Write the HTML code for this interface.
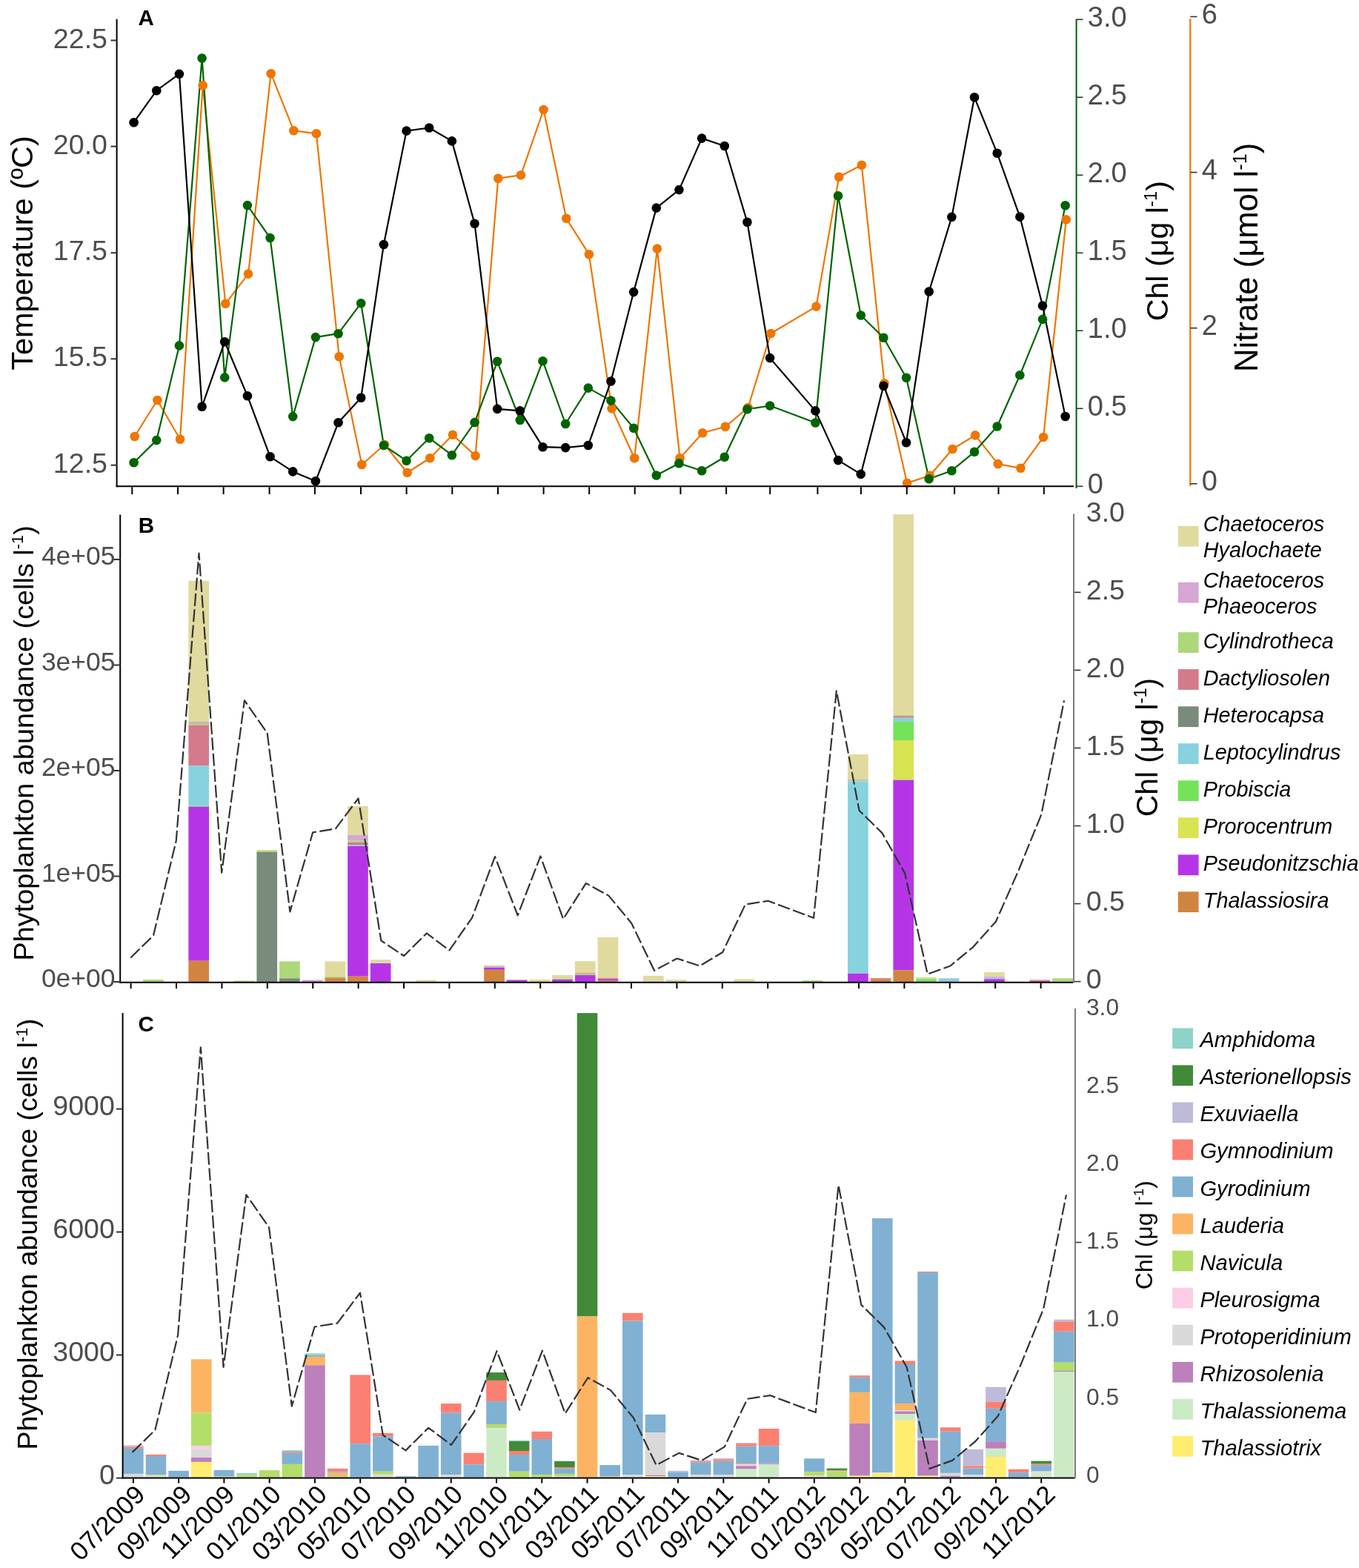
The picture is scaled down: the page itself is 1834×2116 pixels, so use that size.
<!DOCTYPE html>
<html><head><meta charset="utf-8"><title>Phytoplankton time series</title>
<style>html,body{margin:0;padding:0;background:#fff;width:1834px;height:2116px;overflow:hidden;}svg{display:block;}text{font-family:'Liberation Sans', Arial, Helvetica, sans-serif;}</style></head><body>
<svg width="1834" height="2116" viewBox="0 0 1834 2116">
<rect x="0" y="0" width="1834" height="2116" fill="#ffffff"/>
<polyline points="181.7,589 212.36,540 243.02,592.8 273.68,115.3 304.34,409.8 335,369.6 365.66,99.2 396.32,176.2 426.98,180.3 457.64,481.2 488.3,627 518.96,600 549.62,637.7 580.28,618.2 610.94,586.8 641.6,615.1 672.26,240.7 702.92,236.3 733.58,148 764.24,294.8 794.9,343.2 825.56,551.3 856.22,618.2 886.88,335.6 917.54,618.2 948.2,584.3 978.86,575.8 1009.52,550 1040.18,450 1101.5,413.6 1132.16,238.8 1162.82,222.8 1193.48,517.3 1224.14,651.9 1254.8,641.8 1285.46,606 1316.12,587.4 1346.78,626.1 1377.44,631.8 1408.1,590 1438.76,296.3" fill="none" stroke="#ee7600" stroke-width="2.2" stroke-linejoin="round"/>
<polyline points="180.6,624.2 211.26,594.1 241.92,466.4 272.58,78.5 303.24,509.4 333.9,277.1 364.56,321.1 395.22,562.1 425.88,455.1 456.54,450.2 487.2,409.2 517.86,601 548.52,621.7 579.18,591.2 609.84,614.2 640.5,570.1 671.16,487.8 701.82,567 732.48,487.2 763.14,572 793.8,523.6 824.46,540.6 855.12,577.7 885.78,641.5 916.44,625.2 947.1,635.2 977.76,616.7 1008.42,552.2 1039.08,547.5 1100.4,570.5 1131.06,264.3 1161.72,425.5 1192.38,455.7 1223.04,509.8 1253.7,646.2 1284.36,635.2 1315.02,609.8 1345.68,575.5 1376.34,506.3 1407,430.9 1437.66,277.2" fill="none" stroke="#006400" stroke-width="2.2" stroke-linejoin="round"/>
<polyline points="180.6,165.2 211.26,122.2 241.92,99.9 272.58,548.7 303.24,461.3 333.9,534.2 364.56,616.3 395.22,636.4 425.88,649.3 456.54,570.3 487.2,536.8 517.86,330 548.52,176.6 579.18,172.5 609.84,190.4 640.5,301.7 671.16,551.9 701.82,554.4 732.48,603.2 763.14,604.1 793.8,601 824.46,514.5 855.12,394.1 885.78,280.6 916.44,256.1 947.1,186.6 977.76,197 1008.42,299.8 1039.08,483.1 1100.4,554.4 1131.06,621.1 1161.72,639.9 1192.38,520.8 1223.04,597.2 1253.7,393.5 1284.36,292.9 1315.02,131.3 1345.68,206.7 1376.34,292.6 1407,412.6 1437.66,562" fill="none" stroke="#000000" stroke-width="2.2" stroke-linejoin="round"/>
<circle cx="181.7" cy="589" r="6.3" fill="#ee7600"/>
<circle cx="212.36" cy="540" r="6.3" fill="#ee7600"/>
<circle cx="243.02" cy="592.8" r="6.3" fill="#ee7600"/>
<circle cx="273.68" cy="115.3" r="6.3" fill="#ee7600"/>
<circle cx="304.34" cy="409.8" r="6.3" fill="#ee7600"/>
<circle cx="335" cy="369.6" r="6.3" fill="#ee7600"/>
<circle cx="365.66" cy="99.2" r="6.3" fill="#ee7600"/>
<circle cx="396.32" cy="176.2" r="6.3" fill="#ee7600"/>
<circle cx="426.98" cy="180.3" r="6.3" fill="#ee7600"/>
<circle cx="457.64" cy="481.2" r="6.3" fill="#ee7600"/>
<circle cx="488.3" cy="627" r="6.3" fill="#ee7600"/>
<circle cx="518.96" cy="600" r="6.3" fill="#ee7600"/>
<circle cx="549.62" cy="637.7" r="6.3" fill="#ee7600"/>
<circle cx="580.28" cy="618.2" r="6.3" fill="#ee7600"/>
<circle cx="610.94" cy="586.8" r="6.3" fill="#ee7600"/>
<circle cx="641.6" cy="615.1" r="6.3" fill="#ee7600"/>
<circle cx="672.26" cy="240.7" r="6.3" fill="#ee7600"/>
<circle cx="702.92" cy="236.3" r="6.3" fill="#ee7600"/>
<circle cx="733.58" cy="148" r="6.3" fill="#ee7600"/>
<circle cx="764.24" cy="294.8" r="6.3" fill="#ee7600"/>
<circle cx="794.9" cy="343.2" r="6.3" fill="#ee7600"/>
<circle cx="825.56" cy="551.3" r="6.3" fill="#ee7600"/>
<circle cx="856.22" cy="618.2" r="6.3" fill="#ee7600"/>
<circle cx="886.88" cy="335.6" r="6.3" fill="#ee7600"/>
<circle cx="917.54" cy="618.2" r="6.3" fill="#ee7600"/>
<circle cx="948.2" cy="584.3" r="6.3" fill="#ee7600"/>
<circle cx="978.86" cy="575.8" r="6.3" fill="#ee7600"/>
<circle cx="1009.52" cy="550" r="6.3" fill="#ee7600"/>
<circle cx="1040.18" cy="450" r="6.3" fill="#ee7600"/>
<circle cx="1101.5" cy="413.6" r="6.3" fill="#ee7600"/>
<circle cx="1132.16" cy="238.8" r="6.3" fill="#ee7600"/>
<circle cx="1162.82" cy="222.8" r="6.3" fill="#ee7600"/>
<circle cx="1193.48" cy="517.3" r="6.3" fill="#ee7600"/>
<circle cx="1224.14" cy="651.9" r="6.3" fill="#ee7600"/>
<circle cx="1254.8" cy="641.8" r="6.3" fill="#ee7600"/>
<circle cx="1285.46" cy="606" r="6.3" fill="#ee7600"/>
<circle cx="1316.12" cy="587.4" r="6.3" fill="#ee7600"/>
<circle cx="1346.78" cy="626.1" r="6.3" fill="#ee7600"/>
<circle cx="1377.44" cy="631.8" r="6.3" fill="#ee7600"/>
<circle cx="1408.1" cy="590" r="6.3" fill="#ee7600"/>
<circle cx="1438.76" cy="296.3" r="6.3" fill="#ee7600"/>
<circle cx="180.6" cy="624.2" r="6.3" fill="#006400"/>
<circle cx="211.26" cy="594.1" r="6.3" fill="#006400"/>
<circle cx="241.92" cy="466.4" r="6.3" fill="#006400"/>
<circle cx="272.58" cy="78.5" r="6.3" fill="#006400"/>
<circle cx="303.24" cy="509.4" r="6.3" fill="#006400"/>
<circle cx="333.9" cy="277.1" r="6.3" fill="#006400"/>
<circle cx="364.56" cy="321.1" r="6.3" fill="#006400"/>
<circle cx="395.22" cy="562.1" r="6.3" fill="#006400"/>
<circle cx="425.88" cy="455.1" r="6.3" fill="#006400"/>
<circle cx="456.54" cy="450.2" r="6.3" fill="#006400"/>
<circle cx="487.2" cy="409.2" r="6.3" fill="#006400"/>
<circle cx="517.86" cy="601" r="6.3" fill="#006400"/>
<circle cx="548.52" cy="621.7" r="6.3" fill="#006400"/>
<circle cx="579.18" cy="591.2" r="6.3" fill="#006400"/>
<circle cx="609.84" cy="614.2" r="6.3" fill="#006400"/>
<circle cx="640.5" cy="570.1" r="6.3" fill="#006400"/>
<circle cx="671.16" cy="487.8" r="6.3" fill="#006400"/>
<circle cx="701.82" cy="567" r="6.3" fill="#006400"/>
<circle cx="732.48" cy="487.2" r="6.3" fill="#006400"/>
<circle cx="763.14" cy="572" r="6.3" fill="#006400"/>
<circle cx="793.8" cy="523.6" r="6.3" fill="#006400"/>
<circle cx="824.46" cy="540.6" r="6.3" fill="#006400"/>
<circle cx="855.12" cy="577.7" r="6.3" fill="#006400"/>
<circle cx="885.78" cy="641.5" r="6.3" fill="#006400"/>
<circle cx="916.44" cy="625.2" r="6.3" fill="#006400"/>
<circle cx="947.1" cy="635.2" r="6.3" fill="#006400"/>
<circle cx="977.76" cy="616.7" r="6.3" fill="#006400"/>
<circle cx="1008.42" cy="552.2" r="6.3" fill="#006400"/>
<circle cx="1039.08" cy="547.5" r="6.3" fill="#006400"/>
<circle cx="1100.4" cy="570.5" r="6.3" fill="#006400"/>
<circle cx="1131.06" cy="264.3" r="6.3" fill="#006400"/>
<circle cx="1161.72" cy="425.5" r="6.3" fill="#006400"/>
<circle cx="1192.38" cy="455.7" r="6.3" fill="#006400"/>
<circle cx="1223.04" cy="509.8" r="6.3" fill="#006400"/>
<circle cx="1253.7" cy="646.2" r="6.3" fill="#006400"/>
<circle cx="1284.36" cy="635.2" r="6.3" fill="#006400"/>
<circle cx="1315.02" cy="609.8" r="6.3" fill="#006400"/>
<circle cx="1345.68" cy="575.5" r="6.3" fill="#006400"/>
<circle cx="1376.34" cy="506.3" r="6.3" fill="#006400"/>
<circle cx="1407" cy="430.9" r="6.3" fill="#006400"/>
<circle cx="1437.66" cy="277.2" r="6.3" fill="#006400"/>
<circle cx="180.6" cy="165.2" r="6.3" fill="#000"/>
<circle cx="211.26" cy="122.2" r="6.3" fill="#000"/>
<circle cx="241.92" cy="99.9" r="6.3" fill="#000"/>
<circle cx="272.58" cy="548.7" r="6.3" fill="#000"/>
<circle cx="303.24" cy="461.3" r="6.3" fill="#000"/>
<circle cx="333.9" cy="534.2" r="6.3" fill="#000"/>
<circle cx="364.56" cy="616.3" r="6.3" fill="#000"/>
<circle cx="395.22" cy="636.4" r="6.3" fill="#000"/>
<circle cx="425.88" cy="649.3" r="6.3" fill="#000"/>
<circle cx="456.54" cy="570.3" r="6.3" fill="#000"/>
<circle cx="487.2" cy="536.8" r="6.3" fill="#000"/>
<circle cx="517.86" cy="330" r="6.3" fill="#000"/>
<circle cx="548.52" cy="176.6" r="6.3" fill="#000"/>
<circle cx="579.18" cy="172.5" r="6.3" fill="#000"/>
<circle cx="609.84" cy="190.4" r="6.3" fill="#000"/>
<circle cx="640.5" cy="301.7" r="6.3" fill="#000"/>
<circle cx="671.16" cy="551.9" r="6.3" fill="#000"/>
<circle cx="701.82" cy="554.4" r="6.3" fill="#000"/>
<circle cx="732.48" cy="603.2" r="6.3" fill="#000"/>
<circle cx="763.14" cy="604.1" r="6.3" fill="#000"/>
<circle cx="793.8" cy="601" r="6.3" fill="#000"/>
<circle cx="824.46" cy="514.5" r="6.3" fill="#000"/>
<circle cx="855.12" cy="394.1" r="6.3" fill="#000"/>
<circle cx="885.78" cy="280.6" r="6.3" fill="#000"/>
<circle cx="916.44" cy="256.1" r="6.3" fill="#000"/>
<circle cx="947.1" cy="186.6" r="6.3" fill="#000"/>
<circle cx="977.76" cy="197" r="6.3" fill="#000"/>
<circle cx="1008.42" cy="299.8" r="6.3" fill="#000"/>
<circle cx="1039.08" cy="483.1" r="6.3" fill="#000"/>
<circle cx="1100.4" cy="554.4" r="6.3" fill="#000"/>
<circle cx="1131.06" cy="621.1" r="6.3" fill="#000"/>
<circle cx="1161.72" cy="639.9" r="6.3" fill="#000"/>
<circle cx="1192.38" cy="520.8" r="6.3" fill="#000"/>
<circle cx="1223.04" cy="597.2" r="6.3" fill="#000"/>
<circle cx="1253.7" cy="393.5" r="6.3" fill="#000"/>
<circle cx="1284.36" cy="292.9" r="6.3" fill="#000"/>
<circle cx="1315.02" cy="131.3" r="6.3" fill="#000"/>
<circle cx="1345.68" cy="206.7" r="6.3" fill="#000"/>
<circle cx="1376.34" cy="292.6" r="6.3" fill="#000"/>
<circle cx="1407" cy="412.6" r="6.3" fill="#000"/>
<circle cx="1437.66" cy="562" r="6.3" fill="#000"/>
<line x1="157.6" y1="25.7" x2="157.6" y2="657.3" stroke="#000" stroke-width="2"/>
<line x1="156.6" y1="656.3" x2="1449" y2="656.3" stroke="#000" stroke-width="2"/>
<line x1="149.5" y1="54.5" x2="157.6" y2="54.5" stroke="#333" stroke-width="2"/>
<text x="145" y="64.5" font-size="37.6" text-anchor="end" fill="#4d4d4d">22.5</text>
<line x1="149.5" y1="197.6" x2="157.6" y2="197.6" stroke="#333" stroke-width="2"/>
<text x="145" y="207.6" font-size="37.6" text-anchor="end" fill="#4d4d4d">20.0</text>
<line x1="149.5" y1="341.2" x2="157.6" y2="341.2" stroke="#333" stroke-width="2"/>
<text x="145" y="351.2" font-size="37.6" text-anchor="end" fill="#4d4d4d">17.5</text>
<line x1="149.5" y1="484.3" x2="157.6" y2="484.3" stroke="#333" stroke-width="2"/>
<text x="145" y="494.3" font-size="37.6" text-anchor="end" fill="#4d4d4d">15.5</text>
<line x1="149.5" y1="627.7" x2="157.6" y2="627.7" stroke="#333" stroke-width="2"/>
<text x="145" y="637.7" font-size="37.6" text-anchor="end" fill="#4d4d4d">12.5</text>
<line x1="178.3" y1="657.3" x2="178.3" y2="667" stroke="#000" stroke-width="2"/>
<line x1="240" y1="657.3" x2="240" y2="667" stroke="#000" stroke-width="2"/>
<line x1="301.6" y1="657.3" x2="301.6" y2="667" stroke="#000" stroke-width="2"/>
<line x1="363.6" y1="657.3" x2="363.6" y2="667" stroke="#000" stroke-width="2"/>
<line x1="424.9" y1="657.3" x2="424.9" y2="667" stroke="#000" stroke-width="2"/>
<line x1="487" y1="657.3" x2="487" y2="667" stroke="#000" stroke-width="2"/>
<line x1="548.6" y1="657.3" x2="548.6" y2="667" stroke="#000" stroke-width="2"/>
<line x1="610.3" y1="657.3" x2="610.3" y2="667" stroke="#000" stroke-width="2"/>
<line x1="672" y1="657.3" x2="672" y2="667" stroke="#000" stroke-width="2"/>
<line x1="733.6" y1="657.3" x2="733.6" y2="667" stroke="#000" stroke-width="2"/>
<line x1="795.2" y1="657.3" x2="795.2" y2="667" stroke="#000" stroke-width="2"/>
<line x1="856.7" y1="657.3" x2="856.7" y2="667" stroke="#000" stroke-width="2"/>
<line x1="918.4" y1="657.3" x2="918.4" y2="667" stroke="#000" stroke-width="2"/>
<line x1="980.1" y1="657.3" x2="980.1" y2="667" stroke="#000" stroke-width="2"/>
<line x1="1039.2" y1="657.3" x2="1039.2" y2="667" stroke="#000" stroke-width="2"/>
<line x1="1103.4" y1="657.3" x2="1103.4" y2="667" stroke="#000" stroke-width="2"/>
<line x1="1161.9" y1="657.3" x2="1161.9" y2="667" stroke="#000" stroke-width="2"/>
<line x1="1223.8" y1="657.3" x2="1223.8" y2="667" stroke="#000" stroke-width="2"/>
<line x1="1288.1" y1="657.3" x2="1288.1" y2="667" stroke="#000" stroke-width="2"/>
<line x1="1347.5" y1="657.3" x2="1347.5" y2="667" stroke="#000" stroke-width="2"/>
<line x1="1408.8" y1="657.3" x2="1408.8" y2="667" stroke="#000" stroke-width="2"/>
<line x1="1452.6" y1="25.8" x2="1452.6" y2="659" stroke="#006400" stroke-width="2"/>
<line x1="1452.6" y1="656.3" x2="1461.5" y2="656.3" stroke="#333" stroke-width="1.6"/>
<text x="1467.8" y="666.1" font-size="38" text-anchor="start" fill="#4d4d4d">0</text>
<line x1="1452.6" y1="551.3" x2="1461.5" y2="551.3" stroke="#333" stroke-width="1.6"/>
<text x="1467.8" y="561.1" font-size="38" text-anchor="start" fill="#4d4d4d">0.5</text>
<line x1="1452.6" y1="446.3" x2="1461.5" y2="446.3" stroke="#333" stroke-width="1.6"/>
<text x="1467.8" y="456.1" font-size="38" text-anchor="start" fill="#4d4d4d">1.0</text>
<line x1="1452.6" y1="341.3" x2="1461.5" y2="341.3" stroke="#333" stroke-width="1.6"/>
<text x="1467.8" y="351.1" font-size="38" text-anchor="start" fill="#4d4d4d">1.5</text>
<line x1="1452.6" y1="236.3" x2="1461.5" y2="236.3" stroke="#333" stroke-width="1.6"/>
<text x="1467.8" y="246.1" font-size="38" text-anchor="start" fill="#4d4d4d">2.0</text>
<line x1="1452.6" y1="131.3" x2="1461.5" y2="131.3" stroke="#333" stroke-width="1.6"/>
<text x="1467.8" y="141.1" font-size="38" text-anchor="start" fill="#4d4d4d">2.5</text>
<line x1="1452.6" y1="26.3" x2="1461.5" y2="26.3" stroke="#333" stroke-width="1.6"/>
<text x="1467.8" y="36.1" font-size="38" text-anchor="start" fill="#4d4d4d">3.0</text>
<line x1="1606.3" y1="25.2" x2="1606.3" y2="655.7" stroke="#ee7600" stroke-width="2.2"/>
<line x1="1606.3" y1="652.8" x2="1615.5" y2="652.8" stroke="#333" stroke-width="1.6"/>
<text x="1621.8" y="662.4" font-size="38" text-anchor="start" fill="#4d4d4d">0</text>
<line x1="1606.3" y1="442.7" x2="1615.5" y2="442.7" stroke="#333" stroke-width="1.6"/>
<text x="1621.8" y="452.3" font-size="38" text-anchor="start" fill="#4d4d4d">2</text>
<line x1="1606.3" y1="232.6" x2="1615.5" y2="232.6" stroke="#333" stroke-width="1.6"/>
<text x="1621.8" y="242.2" font-size="38" text-anchor="start" fill="#4d4d4d">4</text>
<line x1="1606.3" y1="22.5" x2="1615.5" y2="22.5" stroke="#333" stroke-width="1.6"/>
<text x="1621.8" y="32.1" font-size="38" text-anchor="start" fill="#4d4d4d">6</text>
<text x="186.6" y="33.7" font-size="29.5" text-anchor="start" fill="#000" font-weight="bold">A</text>
<text x="0" y="0" font-size="41.4" text-anchor="middle" fill="#000" transform="translate(43.5 341.5) rotate(-90)">Temperature (ºC)</text>
<text x="0" y="0" font-size="41.2" text-anchor="middle" fill="#000" transform="translate(1575.6 338.7) rotate(-90)">Chl (μg l<tspan font-size="58%" dy="-14.83">-1</tspan><tspan dy="14.83">)</tspan></text>
<text x="0" y="0" font-size="43.6" text-anchor="middle" fill="#000" transform="translate(1697.3 347.3) rotate(-90)">Nitrate (μmol l<tspan font-size="58%" dy="-15.7">-1</tspan><tspan dy="15.7">)</tspan></text>
<rect x="193" y="1321.9" width="27.7" height="3.5" fill="#add879"/>
<rect x="254.36" y="783.7" width="27.7" height="190.2" fill="#e0da9e"/>
<rect x="254.36" y="973.9" width="27.7" height="2.1" fill="#d4a7d4"/>
<rect x="254.36" y="976" width="27.7" height="2.6" fill="#add879"/>
<rect x="254.36" y="978.6" width="27.7" height="54.7" fill="#d47a8a"/>
<rect x="254.36" y="1033.3" width="27.7" height="54.1" fill="#87d2de"/>
<rect x="254.36" y="1087.4" width="27.7" height="1.2" fill="#74e35a"/>
<rect x="254.36" y="1088.6" width="27.7" height="208.1" fill="#b535e6"/>
<rect x="254.36" y="1296.7" width="27.7" height="28.7" fill="#d1843f"/>
<rect x="315.71" y="1323.4" width="27.7" height="2" fill="#add879"/>
<rect x="346.39" y="1147.4" width="27.7" height="2.5" fill="#add879"/>
<rect x="346.39" y="1149.9" width="27.7" height="175.5" fill="#798b7a"/>
<rect x="377.07" y="1297.4" width="27.7" height="22.9" fill="#add879"/>
<rect x="377.07" y="1320.3" width="27.7" height="5.1" fill="#798b7a"/>
<rect x="407.75" y="1322.4" width="27.7" height="2.1" fill="#d4a7d4"/>
<rect x="407.75" y="1324.5" width="27.7" height="0.9" fill="#b535e6"/>
<rect x="438.43" y="1297.4" width="27.7" height="20.4" fill="#e0da9e"/>
<rect x="438.43" y="1317.8" width="27.7" height="1.6" fill="#add879"/>
<rect x="438.43" y="1319.4" width="27.7" height="6" fill="#d1843f"/>
<rect x="469.11" y="1087.9" width="27.7" height="39.1" fill="#e0da9e"/>
<rect x="469.11" y="1127" width="27.7" height="7.6" fill="#d4a7d4"/>
<rect x="469.11" y="1134.6" width="27.7" height="2.4" fill="#add879"/>
<rect x="469.11" y="1137" width="27.7" height="3.5" fill="#d47a8a"/>
<rect x="469.11" y="1140.5" width="27.7" height="1.3" fill="#87d2de"/>
<rect x="469.11" y="1141.8" width="27.7" height="175.9" fill="#b535e6"/>
<rect x="469.11" y="1317.7" width="27.7" height="7.7" fill="#d1843f"/>
<rect x="499.79" y="1295" width="27.7" height="4.5" fill="#e0da9e"/>
<rect x="499.79" y="1299.5" width="27.7" height="0.5" fill="#add879"/>
<rect x="499.79" y="1300" width="27.7" height="25.4" fill="#b535e6"/>
<rect x="561.15" y="1322.5" width="27.7" height="2.9" fill="#e0da9e"/>
<rect x="653.18" y="1302.9" width="27.7" height="1.4" fill="#add879"/>
<rect x="653.18" y="1304.3" width="27.7" height="1.4" fill="#d4a7d4"/>
<rect x="653.18" y="1305.7" width="27.7" height="3.1" fill="#b535e6"/>
<rect x="653.18" y="1308.8" width="27.7" height="16.6" fill="#d1843f"/>
<rect x="683.86" y="1321.8" width="27.7" height="0.9" fill="#add879"/>
<rect x="683.86" y="1322.7" width="27.7" height="2.7" fill="#b535e6"/>
<rect x="714.54" y="1321.8" width="27.7" height="3.6" fill="#e0da9e"/>
<rect x="745.22" y="1315.9" width="27.7" height="4.5" fill="#e0da9e"/>
<rect x="745.22" y="1320.4" width="27.7" height="1.4" fill="#add879"/>
<rect x="745.22" y="1321.8" width="27.7" height="3.6" fill="#b535e6"/>
<rect x="775.9" y="1297.1" width="27.7" height="16.1" fill="#e0da9e"/>
<rect x="775.9" y="1313.2" width="27.7" height="0.9" fill="#d47a8a"/>
<rect x="775.9" y="1314.1" width="27.7" height="1.8" fill="#add879"/>
<rect x="775.9" y="1315.9" width="27.7" height="9.5" fill="#b535e6"/>
<rect x="806.58" y="1265" width="27.7" height="55" fill="#e0da9e"/>
<rect x="806.58" y="1320" width="27.7" height="1.3" fill="#d47a8a"/>
<rect x="806.58" y="1321.3" width="27.7" height="2.3" fill="#b535e6"/>
<rect x="806.58" y="1323.6" width="27.7" height="1.8" fill="#d1843f"/>
<rect x="867.94" y="1316.8" width="27.7" height="8.6" fill="#e0da9e"/>
<rect x="898.62" y="1322.1" width="27.7" height="3.3" fill="#e0da9e"/>
<rect x="990.65" y="1321.3" width="27.7" height="4.1" fill="#e0da9e"/>
<rect x="1082.69" y="1323" width="27.7" height="2.4" fill="#add879"/>
<rect x="1144.05" y="1018.1" width="27.7" height="33.9" fill="#e0da9e"/>
<rect x="1144.05" y="1052" width="27.7" height="1.2" fill="#d4a7d4"/>
<rect x="1144.05" y="1053.2" width="27.7" height="1.5" fill="#add879"/>
<rect x="1144.05" y="1054.7" width="27.7" height="259.05" fill="#87d2de"/>
<rect x="1144.05" y="1313.75" width="27.7" height="11.65" fill="#b535e6"/>
<rect x="1174.73" y="1320" width="27.7" height="1.25" fill="#d47a8a"/>
<rect x="1174.73" y="1321.25" width="27.7" height="4.15" fill="#d1843f"/>
<rect x="1205.41" y="694.1" width="27.7" height="270.8" fill="#e0da9e"/>
<rect x="1205.41" y="964.9" width="27.7" height="1.4" fill="#add879"/>
<rect x="1205.41" y="966.3" width="27.7" height="2.4" fill="#d47a8a"/>
<rect x="1205.41" y="968.7" width="27.7" height="5.2" fill="#87d2de"/>
<rect x="1205.41" y="973.9" width="27.7" height="25.1" fill="#74e35a"/>
<rect x="1205.41" y="999" width="27.7" height="53.6" fill="#d8e452"/>
<rect x="1205.41" y="1052.6" width="27.7" height="256.7" fill="#b535e6"/>
<rect x="1205.41" y="1309.3" width="27.7" height="16.1" fill="#d1843f"/>
<rect x="1236.09" y="1318.6" width="27.7" height="1.8" fill="#e0da9e"/>
<rect x="1236.09" y="1320.4" width="27.7" height="0.85" fill="#add879"/>
<rect x="1236.09" y="1321.25" width="27.7" height="4.15" fill="#74e35a"/>
<rect x="1266.76" y="1320" width="27.7" height="0.7" fill="#d4a7d4"/>
<rect x="1266.76" y="1320.7" width="27.7" height="4.7" fill="#87d2de"/>
<rect x="1328.12" y="1311.9" width="27.7" height="6.2" fill="#e0da9e"/>
<rect x="1328.12" y="1318.1" width="27.7" height="1.6" fill="#d4a7d4"/>
<rect x="1328.12" y="1319.7" width="27.7" height="1.55" fill="#87d2de"/>
<rect x="1328.12" y="1321.25" width="27.7" height="4.15" fill="#b535e6"/>
<rect x="1389.48" y="1322" width="27.7" height="2" fill="#d9a68c"/>
<rect x="1389.48" y="1324" width="27.7" height="1.4" fill="#b535e6"/>
<rect x="1420.16" y="1320.2" width="27.7" height="5.2" fill="#add879"/>
<polyline points="176.3,1292.48 207.03,1262.37 237.75,1134.61 268.48,746.52 299.2,1177.63 329.93,945.22 360.66,989.24 391.38,1230.36 422.11,1123.3 452.83,1118.4 483.56,1077.38 514.29,1269.27 545.01,1289.98 575.74,1259.47 606.46,1282.48 637.19,1238.36 667.92,1156.02 698.64,1235.26 729.37,1155.42 760.09,1240.26 790.82,1191.84 821.55,1208.84 852.27,1245.96 883,1309.79 913.72,1293.49 944.45,1303.49 975.18,1284.98 1005.9,1220.45 1036.63,1215.75 1098.08,1238.76 1128.81,932.41 1159.53,1093.69 1190.26,1123.9 1220.98,1178.03 1251.71,1314.5 1282.44,1303.49 1313.16,1278.08 1343.89,1243.76 1374.61,1174.53 1405.34,1099.09 1436.07,945.32" fill="none" stroke="#333333" stroke-width="2.2" stroke-linejoin="round" stroke-dasharray="17 4.4"/>
<line x1="162.2" y1="694.4" x2="162.2" y2="1326.8" stroke="#000" stroke-width="2"/>
<line x1="161.2" y1="1325.8" x2="1448.2" y2="1325.8" stroke="#000" stroke-width="2"/>
<line x1="153.3" y1="1325" x2="162.2" y2="1325" stroke="#333" stroke-width="2"/>
<text x="155.6" y="1332.1" font-size="35.5" text-anchor="end" fill="#4d4d4d">0e+00</text>
<line x1="153.3" y1="1182.5" x2="162.2" y2="1182.5" stroke="#333" stroke-width="2"/>
<text x="155.6" y="1189.6" font-size="35.5" text-anchor="end" fill="#4d4d4d">1e+05</text>
<line x1="153.3" y1="1040" x2="162.2" y2="1040" stroke="#333" stroke-width="2"/>
<text x="155.6" y="1047.1" font-size="35.5" text-anchor="end" fill="#4d4d4d">2e+05</text>
<line x1="153.3" y1="897.5" x2="162.2" y2="897.5" stroke="#333" stroke-width="2"/>
<text x="155.6" y="904.6" font-size="35.5" text-anchor="end" fill="#4d4d4d">3e+05</text>
<line x1="153.3" y1="755" x2="162.2" y2="755" stroke="#333" stroke-width="2"/>
<text x="155.6" y="762.1" font-size="35.5" text-anchor="end" fill="#4d4d4d">4e+05</text>
<line x1="176.6" y1="1326.8" x2="176.6" y2="1334" stroke="#000" stroke-width="2"/>
<line x1="238" y1="1326.8" x2="238" y2="1334" stroke="#000" stroke-width="2"/>
<line x1="299.4" y1="1326.8" x2="299.4" y2="1334" stroke="#000" stroke-width="2"/>
<line x1="360.8" y1="1326.8" x2="360.8" y2="1334" stroke="#000" stroke-width="2"/>
<line x1="422.2" y1="1326.8" x2="422.2" y2="1334" stroke="#000" stroke-width="2"/>
<line x1="483.6" y1="1326.8" x2="483.6" y2="1334" stroke="#000" stroke-width="2"/>
<line x1="545" y1="1326.8" x2="545" y2="1334" stroke="#000" stroke-width="2"/>
<line x1="606.4" y1="1326.8" x2="606.4" y2="1334" stroke="#000" stroke-width="2"/>
<line x1="667.8" y1="1326.8" x2="667.8" y2="1334" stroke="#000" stroke-width="2"/>
<line x1="729.2" y1="1326.8" x2="729.2" y2="1334" stroke="#000" stroke-width="2"/>
<line x1="790.6" y1="1326.8" x2="790.6" y2="1334" stroke="#000" stroke-width="2"/>
<line x1="852" y1="1326.8" x2="852" y2="1334" stroke="#000" stroke-width="2"/>
<line x1="913.4" y1="1326.8" x2="913.4" y2="1334" stroke="#000" stroke-width="2"/>
<line x1="974.8" y1="1326.8" x2="974.8" y2="1334" stroke="#000" stroke-width="2"/>
<line x1="1036.2" y1="1326.8" x2="1036.2" y2="1334" stroke="#000" stroke-width="2"/>
<line x1="1097.6" y1="1326.8" x2="1097.6" y2="1334" stroke="#000" stroke-width="2"/>
<line x1="1159" y1="1326.8" x2="1159" y2="1334" stroke="#000" stroke-width="2"/>
<line x1="1220.4" y1="1326.8" x2="1220.4" y2="1334" stroke="#000" stroke-width="2"/>
<line x1="1281.8" y1="1326.8" x2="1281.8" y2="1334" stroke="#000" stroke-width="2"/>
<line x1="1343.2" y1="1326.8" x2="1343.2" y2="1334" stroke="#000" stroke-width="2"/>
<line x1="1404.6" y1="1326.8" x2="1404.6" y2="1334" stroke="#000" stroke-width="2"/>
<line x1="1449" y1="693.4" x2="1449" y2="1326.6" stroke="#7c7c7c" stroke-width="2"/>
<line x1="1449.8" y1="1324.6" x2="1458.5" y2="1324.6" stroke="#333" stroke-width="1.6"/>
<text x="1465.8" y="1334.3" font-size="37.5" text-anchor="start" fill="#4d4d4d">0</text>
<line x1="1449.8" y1="1219.55" x2="1458.5" y2="1219.55" stroke="#333" stroke-width="1.6"/>
<text x="1465.8" y="1229.25" font-size="37.5" text-anchor="start" fill="#4d4d4d">0.5</text>
<line x1="1449.8" y1="1114.5" x2="1458.5" y2="1114.5" stroke="#333" stroke-width="1.6"/>
<text x="1465.8" y="1124.2" font-size="37.5" text-anchor="start" fill="#4d4d4d">1.0</text>
<line x1="1449.8" y1="1009.45" x2="1458.5" y2="1009.45" stroke="#333" stroke-width="1.6"/>
<text x="1465.8" y="1019.15" font-size="37.5" text-anchor="start" fill="#4d4d4d">1.5</text>
<line x1="1449.8" y1="904.4" x2="1458.5" y2="904.4" stroke="#333" stroke-width="1.6"/>
<text x="1465.8" y="914.1" font-size="37.5" text-anchor="start" fill="#4d4d4d">2.0</text>
<line x1="1449.8" y1="799.35" x2="1458.5" y2="799.35" stroke="#333" stroke-width="1.6"/>
<text x="1465.8" y="809.05" font-size="37.5" text-anchor="start" fill="#4d4d4d">2.5</text>
<text x="1465.8" y="704" font-size="37.5" text-anchor="start" fill="#4d4d4d">3.0</text>
<text x="186.8" y="718.9" font-size="29.5" text-anchor="start" fill="#000" font-weight="bold">B</text>
<text x="0" y="0" font-size="37.85" text-anchor="middle" fill="#000" transform="translate(44.7 1002.8) rotate(-90)">Phytoplankton abundance (cells l<tspan font-size="58%" dy="-13.63">-1</tspan><tspan dy="13.63">)</tspan></text>
<text x="0" y="0" font-size="40.8" text-anchor="middle" fill="#000" transform="translate(1561.8 1008.5) rotate(-90)">Chl (μg l<tspan font-size="58%" dy="-14.69">-1</tspan><tspan dy="14.69">)</tspan></text>
<rect x="1589.8" y="709.8" width="27.8" height="27.8" fill="#e0da9e"/>
<text x="1623.8" y="716.9" font-size="28.8" text-anchor="start" fill="#000" font-style="italic">Chaetoceros</text>
<text x="1623.8" y="751.7" font-size="28.8" text-anchor="start" fill="#000" font-style="italic">Hyalochaete</text>
<rect x="1589.8" y="785.8" width="27.8" height="27.8" fill="#d4a7d4"/>
<text x="1623.8" y="792.9" font-size="28.8" text-anchor="start" fill="#000" font-style="italic">Chaetoceros</text>
<text x="1623.8" y="827.7" font-size="28.8" text-anchor="start" fill="#000" font-style="italic">Phaeoceros</text>
<rect x="1589.8" y="853.2" width="27.8" height="27.8" fill="#add879"/>
<text x="1623.8" y="875.2" font-size="28.8" text-anchor="start" fill="#000" font-style="italic">Cylindrotheca</text>
<rect x="1589.8" y="903.1" width="27.8" height="27.8" fill="#d47a8a"/>
<text x="1623.8" y="925.1" font-size="28.8" text-anchor="start" fill="#000" font-style="italic">Dactyliosolen</text>
<rect x="1589.8" y="953.3" width="27.8" height="27.8" fill="#798b7a"/>
<text x="1623.8" y="975.3" font-size="28.8" text-anchor="start" fill="#000" font-style="italic">Heterocapsa</text>
<rect x="1589.8" y="1003.2" width="27.8" height="27.8" fill="#87d2de"/>
<text x="1623.8" y="1025.2" font-size="28.8" text-anchor="start" fill="#000" font-style="italic">Leptocylindrus</text>
<rect x="1589.8" y="1053.3" width="27.8" height="27.8" fill="#74e35a"/>
<text x="1623.8" y="1075.3" font-size="28.8" text-anchor="start" fill="#000" font-style="italic">Probiscia</text>
<rect x="1589.8" y="1103.3" width="27.8" height="27.8" fill="#d8e452"/>
<text x="1623.8" y="1125.3" font-size="28.8" text-anchor="start" fill="#000" font-style="italic">Prorocentrum</text>
<rect x="1589.8" y="1153.4" width="27.8" height="27.8" fill="#b535e6"/>
<text x="1623.8" y="1175.4" font-size="28.8" text-anchor="start" fill="#000" font-style="italic">Pseudonitzschia</text>
<rect x="1589.8" y="1203.3" width="27.8" height="27.8" fill="#d1843f"/>
<text x="1623.8" y="1225.3" font-size="28.8" text-anchor="start" fill="#000" font-style="italic">Thalassiosira</text>
<rect x="166.05" y="1950.5" width="27.6" height="2.2" fill="#bebada"/>
<rect x="166.05" y="1952.7" width="27.6" height="2.1" fill="#fb8072"/>
<rect x="166.05" y="1954.8" width="27.6" height="34.1" fill="#80b1d3"/>
<rect x="166.05" y="1988.9" width="27.6" height="4.5" fill="#d9d9d9"/>
<rect x="196.68" y="1962.9" width="27.6" height="2.1" fill="#fb8072"/>
<rect x="196.68" y="1965" width="27.6" height="25.2" fill="#80b1d3"/>
<rect x="196.68" y="1990.2" width="27.6" height="1.2" fill="#b3de69"/>
<rect x="196.68" y="1991.4" width="27.6" height="2" fill="#d9d9d9"/>
<rect x="227.32" y="1984.8" width="27.6" height="8.6" fill="#80b1d3"/>
<rect x="257.95" y="1834.3" width="27.6" height="72.3" fill="#fdb462"/>
<rect x="257.95" y="1906.6" width="27.6" height="44.3" fill="#b3de69"/>
<rect x="257.95" y="1950.9" width="27.6" height="5" fill="#fccde5"/>
<rect x="257.95" y="1955.9" width="27.6" height="11.1" fill="#d9d9d9"/>
<rect x="257.95" y="1967" width="27.6" height="5.9" fill="#bc80bd"/>
<rect x="257.95" y="1972.9" width="27.6" height="20.5" fill="#ffed6f"/>
<rect x="288.59" y="1983.9" width="27.6" height="8.6" fill="#80b1d3"/>
<rect x="288.59" y="1992.5" width="27.6" height="0.9" fill="#b3de69"/>
<rect x="319.22" y="1988" width="27.6" height="2.2" fill="#8dd3c7"/>
<rect x="319.22" y="1990.2" width="27.6" height="3.2" fill="#b3de69"/>
<rect x="349.85" y="1983.9" width="27.6" height="9.5" fill="#b3de69"/>
<rect x="380.49" y="1957.1" width="27.6" height="1.8" fill="#8dd3c7"/>
<rect x="380.49" y="1958.9" width="27.6" height="1.8" fill="#fb8072"/>
<rect x="380.49" y="1960.7" width="27.6" height="15.2" fill="#80b1d3"/>
<rect x="380.49" y="1975.9" width="27.6" height="17.5" fill="#b3de69"/>
<rect x="411.12" y="1826.4" width="27.6" height="2.2" fill="#8dd3c7"/>
<rect x="411.12" y="1828.6" width="27.6" height="2.3" fill="#80b1d3"/>
<rect x="411.12" y="1830.9" width="27.6" height="11.4" fill="#fdb462"/>
<rect x="411.12" y="1842.3" width="27.6" height="151.1" fill="#bc80bd"/>
<rect x="441.76" y="1981.8" width="27.6" height="3.9" fill="#fb8072"/>
<rect x="441.76" y="1985.7" width="27.6" height="1.8" fill="#80b1d3"/>
<rect x="441.76" y="1987.5" width="27.6" height="4.5" fill="#fdb462"/>
<rect x="441.76" y="1992" width="27.6" height="1.4" fill="#b3de69"/>
<rect x="472.39" y="1855.4" width="27.6" height="92.8" fill="#fb8072"/>
<rect x="472.39" y="1948.2" width="27.6" height="45.2" fill="#80b1d3"/>
<rect x="503.02" y="1933.9" width="27.6" height="4.5" fill="#fb8072"/>
<rect x="503.02" y="1938.4" width="27.6" height="47.3" fill="#80b1d3"/>
<rect x="503.02" y="1985.7" width="27.6" height="4.1" fill="#b3de69"/>
<rect x="503.02" y="1989.8" width="27.6" height="3.6" fill="#d9d9d9"/>
<rect x="533.66" y="1992.1" width="27.6" height="1.3" fill="#80b1d3"/>
<rect x="564.29" y="1950.9" width="27.6" height="42.5" fill="#80b1d3"/>
<rect x="594.93" y="1894.1" width="27.6" height="12.5" fill="#fb8072"/>
<rect x="594.93" y="1906.6" width="27.6" height="83.6" fill="#80b1d3"/>
<rect x="594.93" y="1990.2" width="27.6" height="3.2" fill="#d9d9d9"/>
<rect x="625.56" y="1960.7" width="27.6" height="15.55" fill="#fb8072"/>
<rect x="625.56" y="1976.25" width="27.6" height="17.15" fill="#80b1d3"/>
<rect x="656.19" y="1852.1" width="27.6" height="10.8" fill="#418a38"/>
<rect x="656.19" y="1862.9" width="27.6" height="28.2" fill="#fb8072"/>
<rect x="656.19" y="1891.1" width="27.6" height="30.9" fill="#80b1d3"/>
<rect x="656.19" y="1922" width="27.6" height="5.1" fill="#b3de69"/>
<rect x="656.19" y="1927.1" width="27.6" height="1.1" fill="#fccde5"/>
<rect x="656.19" y="1928.2" width="27.6" height="65.2" fill="#ccebc5"/>
<rect x="686.83" y="1943.75" width="27.6" height="1.25" fill="#8dd3c7"/>
<rect x="686.83" y="1945" width="27.6" height="13" fill="#418a38"/>
<rect x="686.83" y="1958" width="27.6" height="5" fill="#fb8072"/>
<rect x="686.83" y="1963" width="27.6" height="22.7" fill="#80b1d3"/>
<rect x="686.83" y="1985.7" width="27.6" height="7.7" fill="#b3de69"/>
<rect x="717.46" y="1931.8" width="27.6" height="10.2" fill="#fb8072"/>
<rect x="717.46" y="1942" width="27.6" height="48.2" fill="#80b1d3"/>
<rect x="717.46" y="1990.2" width="27.6" height="3.2" fill="#b3de69"/>
<rect x="748.1" y="1971.8" width="27.6" height="8.2" fill="#418a38"/>
<rect x="748.1" y="1980" width="27.6" height="1.8" fill="#fb8072"/>
<rect x="748.1" y="1981.8" width="27.6" height="7.1" fill="#80b1d3"/>
<rect x="748.1" y="1988.9" width="27.6" height="3.6" fill="#b3de69"/>
<rect x="748.1" y="1992.5" width="27.6" height="0.9" fill="#fccde5"/>
<rect x="778.73" y="1367.1" width="27.6" height="409.4" fill="#418a38"/>
<rect x="778.73" y="1776.5" width="27.6" height="216.9" fill="#fdb462"/>
<rect x="809.36" y="1977.1" width="27.6" height="15.4" fill="#80b1d3"/>
<rect x="809.36" y="1992.5" width="27.6" height="0.9" fill="#fdb462"/>
<rect x="840" y="1771.8" width="27.6" height="10.7" fill="#fb8072"/>
<rect x="840" y="1782.5" width="27.6" height="207.7" fill="#80b1d3"/>
<rect x="840" y="1990.2" width="27.6" height="3.2" fill="#d9d9d9"/>
<rect x="870.63" y="1908.9" width="27.6" height="24.1" fill="#80b1d3"/>
<rect x="870.63" y="1933" width="27.6" height="57.7" fill="#d9d9d9"/>
<rect x="870.63" y="1990.7" width="27.6" height="1.3" fill="#bc80bd"/>
<rect x="870.63" y="1992" width="27.6" height="1.4" fill="#ffed6f"/>
<rect x="901.27" y="1984.8" width="27.6" height="1.8" fill="#bebada"/>
<rect x="901.27" y="1986.6" width="27.6" height="6.8" fill="#80b1d3"/>
<rect x="931.9" y="1970.5" width="27.6" height="1.3" fill="#bebada"/>
<rect x="931.9" y="1971.8" width="27.6" height="1.8" fill="#fb8072"/>
<rect x="931.9" y="1973.6" width="27.6" height="16.6" fill="#80b1d3"/>
<rect x="931.9" y="1990.2" width="27.6" height="3.2" fill="#d9d9d9"/>
<rect x="962.53" y="1967.9" width="27.6" height="1.4" fill="#bebada"/>
<rect x="962.53" y="1969.3" width="27.6" height="2.5" fill="#fb8072"/>
<rect x="962.53" y="1971.8" width="27.6" height="18.4" fill="#80b1d3"/>
<rect x="962.53" y="1990.2" width="27.6" height="3.2" fill="#d9d9d9"/>
<rect x="993.17" y="1947" width="27.6" height="1.2" fill="#bebada"/>
<rect x="993.17" y="1948.2" width="27.6" height="3.6" fill="#fb8072"/>
<rect x="993.17" y="1951.8" width="27.6" height="23.2" fill="#80b1d3"/>
<rect x="993.17" y="1975" width="27.6" height="1.4" fill="#fdb462"/>
<rect x="993.17" y="1976.4" width="27.6" height="1.8" fill="#fccde5"/>
<rect x="993.17" y="1978.2" width="27.6" height="4.3" fill="#bc80bd"/>
<rect x="993.17" y="1982.5" width="27.6" height="10.9" fill="#ccebc5"/>
<rect x="1023.8" y="1928" width="27.6" height="23.25" fill="#fb8072"/>
<rect x="1023.8" y="1951.25" width="27.6" height="23.35" fill="#80b1d3"/>
<rect x="1023.8" y="1974.6" width="27.6" height="1.3" fill="#bc80bd"/>
<rect x="1023.8" y="1975.9" width="27.6" height="17.5" fill="#ccebc5"/>
<rect x="1085.07" y="1967.8" width="27.6" height="0.9" fill="#8dd3c7"/>
<rect x="1085.07" y="1968.7" width="27.6" height="17.4" fill="#80b1d3"/>
<rect x="1085.07" y="1986.1" width="27.6" height="5.5" fill="#b3de69"/>
<rect x="1085.07" y="1991.6" width="27.6" height="1.8" fill="#fccde5"/>
<rect x="1115.7" y="1981.6" width="27.6" height="2.7" fill="#418a38"/>
<rect x="1115.7" y="1984.3" width="27.6" height="1.1" fill="#fb8072"/>
<rect x="1115.7" y="1985.4" width="27.6" height="8" fill="#b3de69"/>
<rect x="1146.34" y="1856.2" width="27.6" height="2.6" fill="#fb8072"/>
<rect x="1146.34" y="1858.8" width="27.6" height="20.1" fill="#80b1d3"/>
<rect x="1146.34" y="1878.9" width="27.6" height="41.8" fill="#fdb462"/>
<rect x="1146.34" y="1920.7" width="27.6" height="70.9" fill="#bc80bd"/>
<rect x="1146.34" y="1991.6" width="27.6" height="1.8" fill="#ffed6f"/>
<rect x="1176.97" y="1644.1" width="27.6" height="343.1" fill="#80b1d3"/>
<rect x="1176.97" y="1987.2" width="27.6" height="1.3" fill="#ccebc5"/>
<rect x="1176.97" y="1988.5" width="27.6" height="4.9" fill="#ffed6f"/>
<rect x="1207.61" y="1836.5" width="27.6" height="4.5" fill="#fb8072"/>
<rect x="1207.61" y="1841" width="27.6" height="53.1" fill="#80b1d3"/>
<rect x="1207.61" y="1894.1" width="27.6" height="8.9" fill="#fdb462"/>
<rect x="1207.61" y="1903" width="27.6" height="1.6" fill="#d9d9d9"/>
<rect x="1207.61" y="1904.6" width="27.6" height="3.4" fill="#bc80bd"/>
<rect x="1207.61" y="1908" width="27.6" height="8.9" fill="#ccebc5"/>
<rect x="1207.61" y="1916.9" width="27.6" height="76.5" fill="#ffed6f"/>
<rect x="1238.24" y="1716" width="27.6" height="1.1" fill="#fb8072"/>
<rect x="1238.24" y="1717.1" width="27.6" height="223.65" fill="#80b1d3"/>
<rect x="1238.24" y="1940.75" width="27.6" height="2.95" fill="#d9d9d9"/>
<rect x="1238.24" y="1943.7" width="27.6" height="47.9" fill="#bc80bd"/>
<rect x="1238.24" y="1991.6" width="27.6" height="1.8" fill="#ffed6f"/>
<rect x="1268.87" y="1926.25" width="27.6" height="5.55" fill="#fb8072"/>
<rect x="1268.87" y="1931.8" width="27.6" height="56.1" fill="#80b1d3"/>
<rect x="1268.87" y="1987.9" width="27.6" height="3.7" fill="#d9d9d9"/>
<rect x="1268.87" y="1991.6" width="27.6" height="1.8" fill="#bc80bd"/>
<rect x="1299.51" y="1955.9" width="27.6" height="22.4" fill="#bebada"/>
<rect x="1299.51" y="1978.3" width="27.6" height="3.3" fill="#fb8072"/>
<rect x="1299.51" y="1981.6" width="27.6" height="8.5" fill="#80b1d3"/>
<rect x="1299.51" y="1990.1" width="27.6" height="3.3" fill="#d9d9d9"/>
<rect x="1330.14" y="1871.8" width="27.6" height="20.1" fill="#bebada"/>
<rect x="1330.14" y="1891.9" width="27.6" height="8.9" fill="#fb8072"/>
<rect x="1330.14" y="1900.8" width="27.6" height="44.4" fill="#80b1d3"/>
<rect x="1330.14" y="1945.2" width="27.6" height="9.6" fill="#bc80bd"/>
<rect x="1330.14" y="1954.8" width="27.6" height="11.2" fill="#ccebc5"/>
<rect x="1330.14" y="1966" width="27.6" height="27.4" fill="#ffed6f"/>
<rect x="1360.78" y="1982.7" width="27.6" height="4.5" fill="#fb8072"/>
<rect x="1360.78" y="1987.2" width="27.6" height="6.2" fill="#80b1d3"/>
<rect x="1391.41" y="1971.6" width="27.6" height="4" fill="#418a38"/>
<rect x="1391.41" y="1975.6" width="27.6" height="1.5" fill="#fb8072"/>
<rect x="1391.41" y="1977.1" width="27.6" height="8.5" fill="#80b1d3"/>
<rect x="1391.41" y="1985.6" width="27.6" height="1.6" fill="#fccde5"/>
<rect x="1391.41" y="1987.2" width="27.6" height="6.2" fill="#ccebc5"/>
<rect x="1422.04" y="1780.7" width="27.6" height="2.7" fill="#bebada"/>
<rect x="1422.04" y="1783.4" width="27.6" height="13.4" fill="#fb8072"/>
<rect x="1422.04" y="1796.8" width="27.6" height="41.95" fill="#80b1d3"/>
<rect x="1422.04" y="1838.75" width="27.6" height="11.15" fill="#b3de69"/>
<rect x="1422.04" y="1849.9" width="27.6" height="1.1" fill="#bc80bd"/>
<rect x="1422.04" y="1851" width="27.6" height="142.4" fill="#ccebc5"/>
<polyline points="178.6,1959.85 209.34,1929.71 240.08,1801.83 270.82,1413.37 301.56,1844.89 332.3,1612.26 363.04,1656.32 393.78,1897.67 424.52,1790.51 455.26,1785.61 486,1744.55 516.74,1936.62 547.48,1957.35 578.22,1926.81 608.96,1949.84 639.7,1905.68 670.44,1823.26 701.18,1902.57 731.92,1822.66 762.66,1907.58 793.4,1859.11 824.14,1876.13 854.88,1913.29 885.62,1977.18 916.36,1960.86 947.1,1970.87 977.84,1952.34 1008.58,1887.75 1039.32,1883.04 1100.8,1906.08 1131.54,1599.44 1162.28,1760.87 1193.02,1791.11 1223.76,1845.29 1254.5,1981.89 1285.24,1970.87 1315.98,1945.43 1346.72,1911.08 1377.46,1841.79 1408.2,1766.28 1438.94,1612.36" fill="none" stroke="#333333" stroke-width="2.2" stroke-linejoin="round" stroke-dasharray="17 4.4"/>
<line x1="165.6" y1="1367" x2="165.6" y2="1995.5" stroke="#000" stroke-width="2"/>
<line x1="164.6" y1="1994.5" x2="1450" y2="1994.5" stroke="#000" stroke-width="2"/>
<line x1="157" y1="1994.6" x2="165.6" y2="1994.6" stroke="#333" stroke-width="2"/>
<text x="154.8" y="2002.6" font-size="37.5" text-anchor="end" fill="#4d4d4d">0</text>
<line x1="157" y1="1828.57" x2="165.6" y2="1828.57" stroke="#333" stroke-width="2"/>
<text x="154.8" y="1836.57" font-size="37.5" text-anchor="end" fill="#4d4d4d">3000</text>
<line x1="157" y1="1662.54" x2="165.6" y2="1662.54" stroke="#333" stroke-width="2"/>
<text x="154.8" y="1670.54" font-size="37.5" text-anchor="end" fill="#4d4d4d">6000</text>
<line x1="157" y1="1496.51" x2="165.6" y2="1496.51" stroke="#333" stroke-width="2"/>
<text x="154.8" y="1504.51" font-size="37.5" text-anchor="end" fill="#4d4d4d">9000</text>
<line x1="179.85" y1="1995.5" x2="179.85" y2="2001.5" stroke="#000" stroke-width="2"/>
<line x1="241.12" y1="1995.5" x2="241.12" y2="2001.5" stroke="#000" stroke-width="2"/>
<line x1="302.39" y1="1995.5" x2="302.39" y2="2001.5" stroke="#000" stroke-width="2"/>
<line x1="363.65" y1="1995.5" x2="363.65" y2="2001.5" stroke="#000" stroke-width="2"/>
<line x1="424.92" y1="1995.5" x2="424.92" y2="2001.5" stroke="#000" stroke-width="2"/>
<line x1="486.19" y1="1995.5" x2="486.19" y2="2001.5" stroke="#000" stroke-width="2"/>
<line x1="547.46" y1="1995.5" x2="547.46" y2="2001.5" stroke="#000" stroke-width="2"/>
<line x1="608.73" y1="1995.5" x2="608.73" y2="2001.5" stroke="#000" stroke-width="2"/>
<line x1="669.99" y1="1995.5" x2="669.99" y2="2001.5" stroke="#000" stroke-width="2"/>
<line x1="731.26" y1="1995.5" x2="731.26" y2="2001.5" stroke="#000" stroke-width="2"/>
<line x1="792.53" y1="1995.5" x2="792.53" y2="2001.5" stroke="#000" stroke-width="2"/>
<line x1="853.8" y1="1995.5" x2="853.8" y2="2001.5" stroke="#000" stroke-width="2"/>
<line x1="915.07" y1="1995.5" x2="915.07" y2="2001.5" stroke="#000" stroke-width="2"/>
<line x1="976.33" y1="1995.5" x2="976.33" y2="2001.5" stroke="#000" stroke-width="2"/>
<line x1="1037.6" y1="1995.5" x2="1037.6" y2="2001.5" stroke="#000" stroke-width="2"/>
<line x1="1098.87" y1="1995.5" x2="1098.87" y2="2001.5" stroke="#000" stroke-width="2"/>
<line x1="1160.14" y1="1995.5" x2="1160.14" y2="2001.5" stroke="#000" stroke-width="2"/>
<line x1="1221.41" y1="1995.5" x2="1221.41" y2="2001.5" stroke="#000" stroke-width="2"/>
<line x1="1282.67" y1="1995.5" x2="1282.67" y2="2001.5" stroke="#000" stroke-width="2"/>
<line x1="1343.94" y1="1995.5" x2="1343.94" y2="2001.5" stroke="#000" stroke-width="2"/>
<line x1="1405.21" y1="1995.5" x2="1405.21" y2="2001.5" stroke="#000" stroke-width="2"/>
<line x1="1451" y1="1360.9" x2="1451" y2="1995.2" stroke="#7c7c7c" stroke-width="2"/>
<text x="1466" y="2000.65" font-size="31.7" text-anchor="start" fill="#4d4d4d">0</text>
<text x="1466" y="1895.5" font-size="31.7" text-anchor="start" fill="#4d4d4d">0.5</text>
<text x="1466" y="1790.35" font-size="31.7" text-anchor="start" fill="#4d4d4d">1.0</text>
<line x1="1451.8" y1="1676.55" x2="1459.5" y2="1676.55" stroke="#333" stroke-width="1.6"/>
<text x="1466" y="1685.2" font-size="31.7" text-anchor="start" fill="#4d4d4d">1.5</text>
<text x="1466" y="1580.05" font-size="31.7" text-anchor="start" fill="#4d4d4d">2.0</text>
<text x="1466" y="1474.9" font-size="31.7" text-anchor="start" fill="#4d4d4d">2.5</text>
<text x="1466" y="1369.75" font-size="31.7" text-anchor="start" fill="#4d4d4d">3.0</text>
<text x="186.4" y="1392.3" font-size="29.5" text-anchor="start" fill="#000" font-weight="bold">C</text>
<text x="0" y="0" font-size="37.5" text-anchor="middle" fill="#000" transform="translate(50.2 1665.5) rotate(-90)">Phytoplankton abundance (cells l<tspan font-size="58%" dy="-13.5">-1</tspan><tspan dy="13.5">)</tspan></text>
<text x="0" y="0" font-size="32" text-anchor="middle" fill="#000" transform="translate(1554.7 1666.8) rotate(-90)">Chl (μg l<tspan font-size="58%" dy="-11.52">-1</tspan><tspan dy="11.52">)</tspan></text>
<rect x="1582.2" y="1387.4" width="27.8" height="27.8" fill="#8dd3c7"/>
<text x="1619.4" y="1413.3" font-size="29.2" text-anchor="start" fill="#000" font-style="italic">Amphidoma</text>
<rect x="1582.2" y="1437.45" width="27.8" height="27.8" fill="#418a38"/>
<text x="1619.4" y="1463.35" font-size="29.2" text-anchor="start" fill="#000" font-style="italic">Asterionellopsis</text>
<rect x="1582.2" y="1487.5" width="27.8" height="27.8" fill="#bebada"/>
<text x="1619.4" y="1513.4" font-size="29.2" text-anchor="start" fill="#000" font-style="italic">Exuviaella</text>
<rect x="1582.2" y="1537.55" width="27.8" height="27.8" fill="#fb8072"/>
<text x="1619.4" y="1563.45" font-size="29.2" text-anchor="start" fill="#000" font-style="italic">Gymnodinium</text>
<rect x="1582.2" y="1587.6" width="27.8" height="27.8" fill="#80b1d3"/>
<text x="1619.4" y="1613.5" font-size="29.2" text-anchor="start" fill="#000" font-style="italic">Gyrodinium</text>
<rect x="1582.2" y="1637.65" width="27.8" height="27.8" fill="#fdb462"/>
<text x="1619.4" y="1663.55" font-size="29.2" text-anchor="start" fill="#000" font-style="italic">Lauderia</text>
<rect x="1582.2" y="1687.7" width="27.8" height="27.8" fill="#b3de69"/>
<text x="1619.4" y="1713.6" font-size="29.2" text-anchor="start" fill="#000" font-style="italic">Navicula</text>
<rect x="1582.2" y="1737.75" width="27.8" height="27.8" fill="#fccde5"/>
<text x="1619.4" y="1763.65" font-size="29.2" text-anchor="start" fill="#000" font-style="italic">Pleurosigma</text>
<rect x="1582.2" y="1787.8" width="27.8" height="27.8" fill="#d9d9d9"/>
<text x="1619.4" y="1813.7" font-size="29.2" text-anchor="start" fill="#000" font-style="italic">Protoperidinium</text>
<rect x="1582.2" y="1837.85" width="27.8" height="27.8" fill="#bc80bd"/>
<text x="1619.4" y="1863.75" font-size="29.2" text-anchor="start" fill="#000" font-style="italic">Rhizosolenia</text>
<rect x="1582.2" y="1887.9" width="27.8" height="27.8" fill="#ccebc5"/>
<text x="1619.4" y="1913.8" font-size="29.2" text-anchor="start" fill="#000" font-style="italic">Thalassionema</text>
<rect x="1582.2" y="1937.95" width="27.8" height="27.8" fill="#ffed6f"/>
<text x="1619.4" y="1963.85" font-size="29.2" text-anchor="start" fill="#000" font-style="italic">Thalassiotrix</text>
<text x="0" y="0" font-size="34.8" text-anchor="end" fill="#000" transform="translate(197.65 2019) rotate(-45)">07/2009</text>
<text x="0" y="0" font-size="34.8" text-anchor="end" fill="#000" transform="translate(260.62 2019) rotate(-45)">09/2009</text>
<text x="0" y="0" font-size="34.8" text-anchor="end" fill="#000" transform="translate(318.59 2019) rotate(-45)">11/2009</text>
<text x="0" y="0" font-size="34.8" text-anchor="end" fill="#000" transform="translate(381.25 2019) rotate(-45)">01/2010</text>
<text x="0" y="0" font-size="34.8" text-anchor="end" fill="#000" transform="translate(443.22 2019) rotate(-45)">03/2010</text>
<text x="0" y="0" font-size="34.8" text-anchor="end" fill="#000" transform="translate(503.79 2019) rotate(-45)">05/2010</text>
<text x="0" y="0" font-size="34.8" text-anchor="end" fill="#000" transform="translate(562.96 2019) rotate(-45)">07/2010</text>
<text x="0" y="0" font-size="34.8" text-anchor="end" fill="#000" transform="translate(626.43 2019) rotate(-45)">09/2010</text>
<text x="0" y="0" font-size="34.8" text-anchor="end" fill="#000" transform="translate(687.59 2019) rotate(-45)">11/2010</text>
<text x="0" y="0" font-size="34.8" text-anchor="end" fill="#000" transform="translate(746.26 2019) rotate(-45)">01/2011</text>
<text x="0" y="0" font-size="34.8" text-anchor="end" fill="#000" transform="translate(809.83 2019) rotate(-45)">03/2011</text>
<text x="0" y="0" font-size="34.8" text-anchor="end" fill="#000" transform="translate(871.6 2019) rotate(-45)">05/2011</text>
<text x="0" y="0" font-size="34.8" text-anchor="end" fill="#000" transform="translate(931.97 2019) rotate(-45)">07/2011</text>
<text x="0" y="0" font-size="34.8" text-anchor="end" fill="#000" transform="translate(991.33 2019) rotate(-45)">09/2011</text>
<text x="0" y="0" font-size="34.8" text-anchor="end" fill="#000" transform="translate(1052.7 2019) rotate(-45)">11/2011</text>
<text x="0" y="0" font-size="34.8" text-anchor="end" fill="#000" transform="translate(1115.57 2019) rotate(-45)">01/2012</text>
<text x="0" y="0" font-size="34.8" text-anchor="end" fill="#000" transform="translate(1174.14 2019) rotate(-45)">03/2012</text>
<text x="0" y="0" font-size="34.8" text-anchor="end" fill="#000" transform="translate(1236.71 2019) rotate(-45)">05/2012</text>
<text x="0" y="0" font-size="34.8" text-anchor="end" fill="#000" transform="translate(1298.47 2019) rotate(-45)">07/2012</text>
<text x="0" y="0" font-size="34.8" text-anchor="end" fill="#000" transform="translate(1362.64 2019) rotate(-45)">09/2012</text>
<text x="0" y="0" font-size="34.8" text-anchor="end" fill="#000" transform="translate(1426.01 2019) rotate(-45)">11/2012</text>
</svg></body></html>
